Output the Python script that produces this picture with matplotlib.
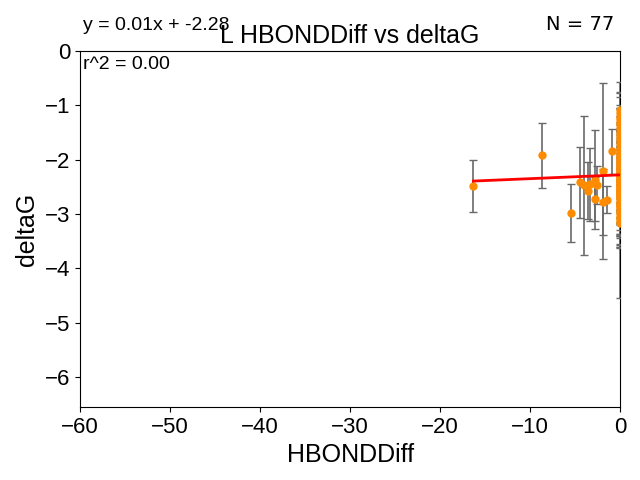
import numpy as np
import matplotlib
matplotlib.use("Agg")
import matplotlib.pyplot as plt

plt.rcParams['font.family'] = ['Liberation Sans', 'DejaVu Sans']

# points away from zero
hbond_off = [-16.3, -8.7, -5.5, -4.5, -4.0, -3.6, -3.3, -2.75, -2.6, -2.75, -1.95, -1.95, -1.5, -0.95]
dg_off = [-2.48, -1.92, -2.98, -2.42, -2.47, -2.57, -2.45, -2.37, -2.47, -2.72, -2.21, -2.78, -2.74, -1.85]
err_off = [0.48, 0.60, 0.53, 0.65, 1.28, 0.52, 0.67, 0.91, 0.35, 0.40, 1.62, 0.60, 0.25, 0.41]

# points at HBONDDiff = 0
dg_zero = [-1.08, -1.15, -1.22, -1.30, -1.35, -1.42, -1.50, -1.55, -1.60, -1.66,
           -1.72, -1.78, -1.83, -1.88, -1.92, -1.97, -2.02, -2.05, -2.10, -2.13,
           -2.17, -2.20, -2.24, -2.27, -2.30, -2.33, -2.36, -2.39, -2.42, -2.45,
           -2.48, -2.51, -2.54, -2.57, -2.60, -2.63, -2.66, -2.70, -2.73, -2.77,
           -2.80, -2.84, -2.88, -2.92, -2.96, -3.00, -3.05, -3.10, -3.16, -2.35,
           -2.25, -2.55, -2.65, -2.15, -2.05, -2.85, -1.95, -2.45, -2.62, -2.38,
           -2.50, -3.12, -1.25]
err_zero = [0.50, 0.30, 0.45, 0.25, 0.60, 0.35, 0.20, 0.55, 0.40, 0.30,
            0.25, 0.45, 0.35, 0.20, 0.50, 0.30, 0.40, 0.25, 0.35, 0.60,
            0.30, 0.45, 0.25, 0.40, 0.55, 0.30, 0.20, 0.45, 0.35, 0.50,
            0.30, 0.40, 0.25, 0.60, 0.35, 0.45, 0.30, 0.50, 0.25, 0.40,
            0.35, 0.55, 0.30, 0.45, 0.40, 0.60, 0.35, 0.50, 1.38, 0.70,
            0.80, 0.90, 0.75, 0.65, 0.85, 0.70, 0.60, 0.95, 1.00, 0.55,
            0.80, 0.45, 0.20]

hbond = np.array(hbond_off + [0.0] * len(dg_zero))
dg = np.array(dg_off + dg_zero)
err = np.array(err_off + err_zero)

fit_slope = 0.007
fit_intercept = -2.28

fig = plt.figure(figsize=(6.4, 4.8), dpi=100)
ax = fig.add_axes([0.125, 0.152, 0.844, 0.742])

ax.errorbar(hbond, dg, yerr=err, fmt='o', color='darkorange', ecolor='dimgray',
            elinewidth=1.2, capsize=3, markersize=5, zorder=3)
xfit = np.array([hbond.min(), hbond.max()])
ax.plot(xfit, fit_slope * xfit + fit_intercept, color='red', linewidth=2, zorder=4)

ax.set_xlim(-60, 0)
ax.set_ylim(-6.55, 0)
ax.set_xlabel('HBONDDiff', fontsize=18)
ax.set_ylabel('deltaG', fontsize=18)
ax.tick_params(labelsize=16)
ax.set_title('L HBONDDiff vs deltaG', fontsize=18)

ax.text(0.005, 1.06, f'y = {fit_slope:.2f}x + {fit_intercept:.2f}', transform=ax.transAxes, fontsize=14)
ax.text(0.005, 0.95, 'r^2 = 0.00', transform=ax.transAxes, fontsize=14)
ax.text(0.862, 1.06, f'N = {len(dg)}', transform=ax.transAxes, fontsize=14, family='DejaVu Sans')

plt.savefig('out.png', dpi=100)
